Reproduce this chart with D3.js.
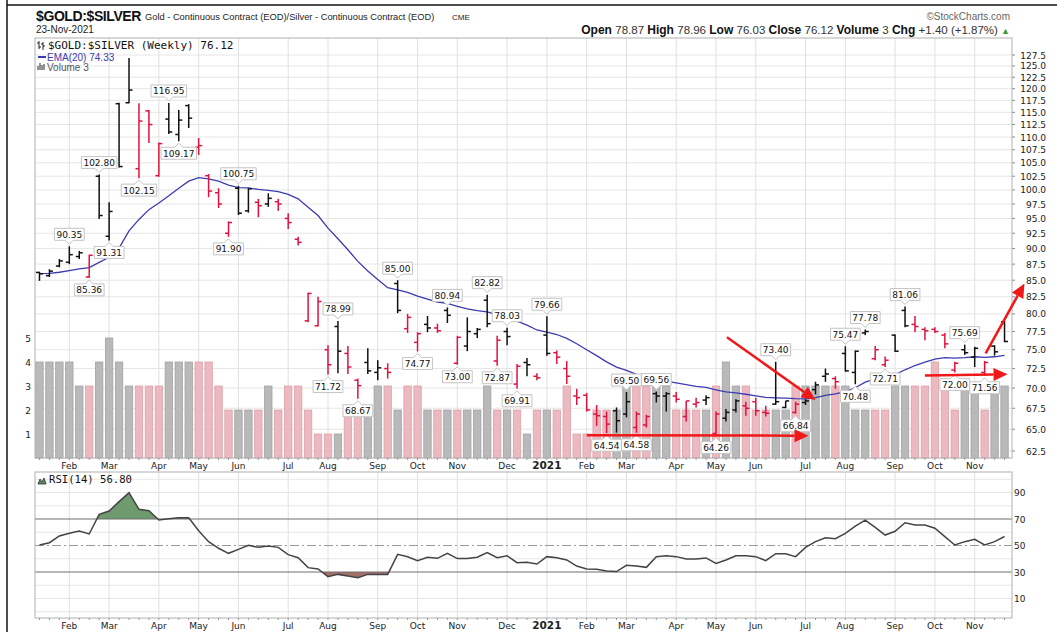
<!DOCTYPE html>
<html>
<head>
<meta charset="utf-8">
<script src="https://cdn.jsdelivr.net/npm/d3@7"></script>
<style>
  body { margin: 0; background: #fff; }
  svg { display: block; font-family: "Liberation Sans", Arial, sans-serif; }
</style>
</head>
<body>
<svg id="chart" width="1057" height="632"></svg>
<script>
// weekly bars, week of 13-Jan-2020 .. week of 22-Nov-2021
const opens = [86.2, 85.7, 87.2, 87.8, 88.7, 85.5, 102.5, 92.0, 116.8, 117.0,
  103.9, 115.3, 102.6, 113.6, 110.5, 116.4, 108.0, 102.6, 99.5, 92.5,
  100.3, 96.3, 97.8, 97.5, 97.9, 95.0, 91.5, 79.0, 78.3, 75.0,
  78.2, 74.5, 71.0, 73.3, 72.0, 72.5, 84.5, 77.9, 76.0, 78.5,
  78.0, 80.5, 73.2, 75.5, 77.2, 82.0, 73.5, 77.5, 70.5, 73.3,
  71.5, 77.0, 74.6, 72.5, 69.0, 69.1, 66.8, 66.5, 67.2, 66.8,
  65.2, 65.5, 69.3, 69.0, 69.0, 66.5, 68.0, 68.5, 64.5, 66.3,
  67.3, 67.8, 68.3, 67.0, 68.0, 67.6, 67.0, 68.2, 69.8, 71.5,
  71.2, 74.5, 72.0, 77.3, 73.8, 73.0, 77.0, 80.5, 78.5, 77.8,
  77.8, 77.0, 72.3, 75.0, 74.0, 72.0, 75.5, 78.87];
const highs = [86.3, 86.7, 88.3, 90.35, 89.6, 89.0, 102.80, 97.8, 117.0, 126.8,
  116.9, 115.5, 108.9, 116.95, 115.5, 116.7, 109.8, 102.9, 100.3, 94.5,
  100.75, 100.3, 98.4, 99.4, 98.4, 95.9, 91.9, 83.1, 82.5, 75.6,
  78.99, 75.5, 71.2, 75.2, 73.6, 73.2, 85.00, 80.0, 77.4, 79.7,
  78.6, 80.94, 76.9, 79.5, 78.0, 82.82, 76.9, 78.03, 73.1, 73.9,
  71.9, 79.66, 74.9, 73.5, 69.9, 69.4, 67.9, 67.1, 67.6, 69.50,
  67.1, 66.7, 69.56, 69.5, 69.5, 68.4, 68.8, 69.1, 67.1, 67.4,
  68.6, 68.3, 68.8, 67.8, 73.40, 68.4, 68.3, 68.6, 70.8, 72.5,
  71.5, 75.47, 74.9, 77.78, 75.5, 74.1, 77.1, 81.06, 79.7, 78.1,
  78.1, 77.3, 73.4, 75.69, 75.4, 73.5, 75.6, 78.96];
const lows = [84.9, 85.5, 87.0, 87.5, 88.3, 85.36, 94.9, 91.31, 104.1, 116.9,
  102.15, 108.8, 102.4, 110.6, 109.17, 111.8, 106.5, 98.7, 96.8, 91.90,
  95.6, 96.0, 95.2, 97.0, 96.3, 93.2, 90.5, 78.8, 78.2, 71.72,
  71.9, 71.8, 68.67, 71.8, 71.0, 71.2, 80.1, 77.3, 74.77, 77.4,
  77.3, 78.7, 73.00, 74.8, 76.6, 78.1, 72.87, 75.6, 69.91, 71.5,
  71.0, 74.2, 73.1, 70.5, 67.9, 67.1, 65.4, 64.54, 64.6, 66.4,
  64.58, 65.2, 68.2, 67.1, 68.2, 65.9, 67.6, 67.9, 64.26, 65.9,
  67.0, 66.6, 66.6, 66.5, 67.9, 67.5, 66.84, 67.9, 69.2, 70.8,
  69.9, 72.1, 70.48, 77.0, 73.6, 72.71, 74.7, 78.1, 77.4, 76.3,
  77.3, 75.2, 72.00, 74.3, 72.7, 71.56, 74.2, 76.03];
const closes = [86.0, 86.4, 88.0, 89.0, 89.3, 88.9, 95.5, 96.2, 104.3, 119.7,
  113.2, 112.5, 108.7, 111.0, 113.4, 113.8, 108.3, 99.8, 97.5, 94.3,
  95.9, 100.2, 97.2, 98.5, 97.5, 94.3, 91.0, 83.0, 81.8, 73.0,
  74.8, 72.7, 70.3, 72.2, 72.6, 72.0, 80.5, 79.5, 77.2, 78.0,
  77.6, 79.8, 76.7, 77.5, 77.8, 78.6, 76.3, 76.8, 72.8, 73.0,
  71.3, 74.5, 74.0, 71.5, 68.8, 67.3, 66.6, 65.6, 66.0, 68.3,
  66.8, 66.5, 69.0, 69.3, 68.6, 68.4, 68.2, 68.8, 66.8, 67.0,
  68.4, 67.5, 67.2, 66.9, 68.3, 68.4, 68.0, 68.4, 70.4, 71.8,
  70.8, 72.2, 74.8, 77.5, 75.0, 73.6, 74.8, 78.3, 78.2, 77.6,
  77.5, 75.8, 73.2, 74.6, 75.2, 73.3, 74.72, 76.12];
const volumes = [4, 4, 4, 4, 3, 3, 4, 5, 4, 3,
  3, 3, 3, 4, 4, 4, 4, 4, 3, 2,
  2, 2, 2, 3, 2, 3, 3, 2, 1, 1,
  1, 2, 2, 2, 3, 3, 2, 3, 3, 2,
  2, 2, 2, 2, 2, 3, 2, 2, 2, 1,
  2, 2, 2, 3, 1, 1, 2, 2, 2, 3,
  3, 3, 3, 3, 2, 2, 2, 2, 3, 4,
  3, 3, 2, 2, 2, 2, 3, 3, 3, 3,
  3, 3, 2, 2, 2, 2, 3, 3, 3, 3,
  4, 3, 2, 3, 3, 2, 3, 3];
const rsiValues = [50.4, 52.1, 57.2, 59.2, 60.9, 58.7, 73.5, 76.0, 83.1, 89.9,
  77.3, 76.3, 69.2, 70.2, 71.0, 71.0, 61.2, 52.9, 47.9, 44.1,
  47.1, 50.1, 48.6, 49.6, 48.6, 43.1, 40.8, 33.3, 32.3, 26.5,
  28.2, 27.0, 25.7, 28.2, 28.2, 28.2, 43.3, 41.5, 38.5, 41.1,
  40.3, 44.1, 40.1, 40.1, 41.1, 44.6, 40.8, 42.3, 37.0, 37.3,
  36.0, 41.6, 40.8, 39.1, 34.5, 32.3, 32.0, 30.8, 30.3, 35.0,
  34.5, 33.5, 41.6, 42.3, 41.6, 39.8, 39.8, 40.6, 36.5, 39.1,
  42.3, 42.3, 41.6, 38.6, 43.8, 43.8, 41.6, 48.6, 52.9, 55.9,
  55.1, 59.2, 64.7, 69.2, 63.7, 57.9, 60.7, 67.2, 65.5, 65.5,
  63.0, 56.7, 50.4, 52.9, 54.7, 50.4, 52.9, 56.8];
const emaReading = 74.33; // legend value as printed on the chart

// first bar of each month (bar index, label)
const monthTicks = [[3, "Feb"], [7, "Mar"], [12, "Apr"], [16, "May"], [20, "Jun"], [25, "Jul"],
  [29, "Aug"], [34, "Sep"], [38, "Oct"], [42, "Nov"], [47, "Dec"], [51, "2021"],
  [55, "Feb"], [59, "Mar"], [64, "Apr"], [68, "May"], [72, "Jun"], [77, "Jul"],
  [81, "Aug"], [86, "Sep"], [90, "Oct"], [94, "Nov"]];
const priceTicks = d3.range(62.5, 127.6, 2.5);
const volumeTicks = [1, 2, 3, 4, 5];
const rsiTicks = [10, 30, 50, 70, 90];
const rsiGrid = d3.range(0, 101, 10);

// swing labels: bar index and which end
const swingLabels = [[3, "H"], [5, "L"], [6, "H"], [7, "L"], [10, "L"], [13, "H"], [14, "L"],
  [19, "L"], [20, "H"], [29, "L"], [30, "H"], [32, "L"], [36, "H"], [38, "L"], [41, "H"],
  [42, "L"], [45, "H"], [46, "L"], [47, "H"], [48, "L"], [51, "H"], [57, "L"], [59, "H"],
  [60, "L"], [62, "H"], [68, "L"], [74, "H"], [76, "L"], [81, "H"], [82, "L"], [83, "H"],
  [85, "L"], [87, "H"], [92, "L"], [93, "H"], [95, "L"]];

// hand drawn red arrows, [bar index, price]
const arrowFrom = [[55.0, 64.3], [69.1, 76.7], [89.0, 71.6], [95.1, 74.5]];
const arrowTo = [[77.3, 64.25], [78.0, 68.5], [97.3, 71.75], [99.0, 84.5]];

const svg = d3.select("#chart");
const pane = { left: 35, right: 1012, top: 38, bottom: 458 };
const rsiPane = { left: 35, right: 1012, top: 472, bottom: 618 };
const n = closes.length;
const idx = d3.range(n);

const x = d3.scaleLinear().domain([-0.45, 97.75]).range([pane.left, pane.right]);
const y = d3.scaleLog().domain([62.5, 127.5]).range([451, 55]);
const yVol = d3.scaleLinear().domain([0, 17.5]).range([pane.bottom, pane.top]);
const yRsi = d3.scaleLinear().domain([0, 100]).range([611.75, 479.25]);

const up = i => i === 0 || closes[i] >= closes[i - 1];

// EMA(20) of closes
const k = 2 / 21;
const ema = [];
closes.forEach((c, i) => ema.push(i === 0 ? c : ema[i - 1] + k * (c - ema[i - 1])));

// frame
svg.append("line").attr("x1", 7).attr("x2", 7).attr("y1", 0).attr("y2", 632)
  .attr("stroke", "#111").attr("stroke-width", 1.5);
svg.append("line").attr("x1", 7).attr("x2", 1057).attr("y1", 5).attr("y2", 5)
  .attr("stroke", "#111").attr("stroke-width", 1.5);

// header
const head = svg.append("g");
head.append("text").attr("x", 36).attr("y", 21).attr("font-size", 14).attr("font-weight", "bold")
  .attr("letter-spacing", -0.4).attr("fill", "#111").text("$GOLD:$SILVER");
head.append("text").attr("x", 145).attr("y", 20).attr("font-size", 9.3).attr("fill", "#222")
  .text("Gold - Continuous Contract (EOD)/Silver - Continuous Contract (EOD)");
head.append("text").attr("x", 452).attr("y", 20).attr("font-size", 8).attr("fill", "#222").text("CME");
head.append("text").attr("x", 36).attr("y", 33).attr("font-size", 10).attr("fill", "#222").text("23-Nov-2021");
head.append("text").attr("x", 1010).attr("y", 20).attr("font-size", 10).attr("fill", "#666")
  .attr("text-anchor", "end").text("\u00A9StockCharts.com");

const last = n - 1;
const chg = closes[last] - closes[last - 1];
const stats = head.append("text").attr("x", 1010).attr("y", 34).attr("font-size", 12)
  .attr("text-anchor", "end").attr("fill", "#111");
[["Open", opens[last].toFixed(2)], ["High", highs[last].toFixed(2)], ["Low", lows[last].toFixed(2)],
 ["Close", closes[last].toFixed(2)], ["Volume", volumes[last]],
 ["Chg", `+${chg.toFixed(2)} (+${(chg / closes[last - 1] * 100).toFixed(2)}%)`]]
  .forEach(([lab, val]) => {
    stats.append("tspan").attr("font-weight", "bold").text(lab + " ");
    stats.append("tspan").attr("font-size", 11.5).attr("fill", "#333").text(val + "   ");
  });
stats.append("tspan").attr("fill", "#3c9a3c").attr("font-size", 9).text("\u25B2");

// panels
function panelBase(p) {
  svg.append("rect").attr("x", p.left).attr("y", p.top)
    .attr("width", p.right - p.left).attr("height", p.bottom - p.top)
    .attr("fill", "#fff");
}
panelBase(pane);
panelBase(rsiPane);

const grid = svg.append("g");
grid.selectAll(".hg").data(priceTicks).join("line")
  .attr("x1", pane.left).attr("x2", pane.right)
  .attr("y1", d => y(d)).attr("y2", d => y(d))
  .attr("stroke", "#e6e6e6");
[pane, rsiPane].forEach(p => {
  grid.append("g").selectAll("line").data(monthTicks).join("line")
    .attr("x1", d => x(d[0])).attr("x2", d => x(d[0]))
    .attr("y1", p.top).attr("y2", p.bottom)
    .attr("stroke", "#e0e0e0");
});
grid.selectAll(".rg").data(rsiGrid.filter(d => d !== 30 && d !== 50 && d !== 70)).join("line")
  .attr("x1", rsiPane.left).attr("x2", rsiPane.right)
  .attr("y1", d => yRsi(d)).attr("y2", d => yRsi(d))
  .attr("stroke", "#e6e6e6");

// volume
svg.append("g").selectAll("rect").data(idx).join("rect")
  .attr("x", i => x(i) - 3.7).attr("width", 7.4)
  .attr("y", i => yVol(volumes[i])).attr("height", i => yVol(0) - yVol(volumes[i]))
  .attr("fill", i => up(i) ? "#b9b9b9" : "#ebb9bf")
  .attr("stroke", i => up(i) ? "#a2a2a2" : "#dca2a9").attr("stroke-width", 0.8);

svg.append("g").selectAll("text").data(volumeTicks).join("text")
  .attr("x", 28).attr("y", d => yVol(d) + 3.5).attr("text-anchor", "middle")
  .attr("font-family", "DejaVu Sans").attr("font-size", 9).attr("fill", "#222").text(d => d);

// EMA
svg.append("path").datum(idx)
  .attr("d", d3.line().x(i => x(i)).y(i => y(ema[i])))
  .attr("fill", "none").attr("stroke", "#3b3bb0").attr("stroke-width", 1.3);

// OHLC bars
const bars = svg.append("g").selectAll("g").data(idx).join("g")
  .attr("stroke", i => up(i) ? "#111" : "#e2123e").attr("stroke-width", 1.5);
bars.append("line").attr("x1", i => x(i)).attr("x2", i => x(i))
  .attr("y1", i => y(highs[i])).attr("y2", i => y(lows[i]));
bars.append("line").attr("x1", i => x(i) - 3.5).attr("x2", i => x(i))
  .attr("y1", i => y(opens[i])).attr("y2", i => y(opens[i]));
bars.append("line").attr("x1", i => x(i)).attr("x2", i => x(i) + 3.5)
  .attr("y1", i => y(closes[i])).attr("y2", i => y(closes[i]));

// swing labels
const lab = svg.append("g").attr("font-family", "DejaVu Sans").attr("font-size", 9);
swingLabels.forEach(([i, side]) => {
  const v = side === "H" ? highs[i] : lows[i];
  const cx = x(i), py = y(v);
  const g = lab.append("g");
  const path = g.append("path");
  const t = g.append("text").attr("x", cx).attr("text-anchor", "middle").attr("fill", "#111")
    .text(v.toFixed(2));
  const w = t.node().getComputedTextLength() + 4, h = 12;
  const l = cx - w / 2, r = cx + w / 2;
  let d;
  if (side === "H") {
    const tip = py - 2, b = tip - 4, tp = b - h;
    d = `M${l},${tp}H${r}V${b}H${cx + 4}L${cx},${tip}L${cx - 4},${b}H${l}Z`;
    t.attr("y", tp + 9.5);
  } else {
    const tip = py + 2, tp = tip + 4, b = tp + h;
    d = `M${l},${tp}H${cx - 4}L${cx},${tip}L${cx + 4},${tp}H${r}V${b}H${l}Z`;
    t.attr("y", tp + 9.5);
  }
  path.attr("d", d).attr("fill", "#fff").attr("stroke", "#c4c4c4");
});

// price panel legend
const leg = svg.append("g");
leg.append("path").attr("d", "M39,41V49M37,43H39M39,47H41M43,42V50M41,44H43M43,46H45")
  .attr("stroke", "#222").attr("fill", "none");
leg.append("text").attr("x", 48).attr("y", 48.5).attr("font-family", "DejaVu Sans Mono")
  .attr("font-size", 11).attr("fill", "#111")
  .text(`$GOLD:$SILVER (Weekly) ${closes[last].toFixed(2)}`);
leg.append("line").attr("x1", 38).attr("x2", 46).attr("y1", 57).attr("y2", 57)
  .attr("stroke", "#3b3bb0").attr("stroke-width", 2);
leg.append("text").attr("x", 47).attr("y", 60.5).attr("font-size", 10).attr("fill", "#3b3bb0")
  .text(`EMA(20) ${emaReading.toFixed(2)}`);
leg.append("path").attr("d", "M38,70V66M40,70V63M42,70V65M44,70V64")
  .attr("stroke", "#666").attr("stroke-width", 1.4);
leg.append("text").attr("x", 47).attr("y", 71).attr("font-size", 10).attr("fill", "#555")
  .text(`Volume ${volumes[last]}`);

// price axis
const ax = svg.append("g").attr("font-family", "DejaVu Sans").attr("font-size", 9).attr("fill", "#222");
ax.selectAll("text").data(priceTicks).join("text")
  .attr("x", 1046).attr("y", d => y(d) + 3.5).attr("text-anchor", "end").text(d => d.toFixed(1));
svg.append("g").selectAll("line").data(priceTicks).join("line")
  .attr("x1", pane.right).attr("x2", pane.right + 3)
  .attr("y1", d => y(d)).attr("y2", d => y(d)).attr("stroke", "#888");

// RSI
const rsiG = svg.append("g");
rsiG.append("clipPath").attr("id", "above70").append("rect")
  .attr("x", rsiPane.left).attr("width", rsiPane.right - rsiPane.left)
  .attr("y", rsiPane.top).attr("height", yRsi(70) - rsiPane.top);
rsiG.append("clipPath").attr("id", "below30").append("rect")
  .attr("x", rsiPane.left).attr("width", rsiPane.right - rsiPane.left)
  .attr("y", yRsi(30)).attr("height", rsiPane.bottom - yRsi(30));
rsiG.append("path").datum(idx).attr("clip-path", "url(#above70)")
  .attr("d", d3.area().x(i => x(i)).y0(yRsi(70)).y1(i => yRsi(rsiValues[i])))
  .attr("fill", "#6e9a6e");
rsiG.append("path").datum(idx).attr("clip-path", "url(#below30)")
  .attr("d", d3.area().x(i => x(i)).y0(yRsi(30)).y1(i => yRsi(rsiValues[i])))
  .attr("fill", "#a56f69");
[70, 30].forEach(v => rsiG.append("line").attr("x1", rsiPane.left).attr("x2", rsiPane.right)
  .attr("y1", yRsi(v)).attr("y2", yRsi(v)).attr("stroke", "#6e6e6e"));
rsiG.append("line").attr("x1", rsiPane.left).attr("x2", rsiPane.right)
  .attr("y1", yRsi(50)).attr("y2", yRsi(50)).attr("stroke", "#999")
  .attr("stroke-dasharray", "9,3,2,3");
rsiG.append("path").datum(idx)
  .attr("d", d3.line().x(i => x(i)).y(i => yRsi(rsiValues[i])))
  .attr("fill", "none").attr("stroke", "#444").attr("stroke-width", 1.5);
rsiG.append("g").attr("font-family", "DejaVu Sans").attr("font-size", 9).attr("fill", "#222")
  .selectAll("text").data(rsiTicks).join("text")
  .attr("x", 1014).attr("y", d => yRsi(d) + 3.5).text(d => d);
rsiG.append("path").attr("d", "M38,484L40,479L42,482L44,478L46,484Z").attr("fill", "#5c8a5c")
  .attr("stroke", "#333").attr("stroke-width", 0.8);
rsiG.append("text").attr("x", 49).attr("y", 483).attr("font-family", "DejaVu Sans Mono")
  .attr("font-size", 10.6).attr("fill", "#111")
  .text(`RSI(14) ${rsiValues[last].toFixed(2)}`);

// panel borders and x axes
[pane, rsiPane].forEach(p => {
  svg.append("rect").attr("x", p.left).attr("y", p.top)
    .attr("width", p.right - p.left).attr("height", p.bottom - p.top)
    .attr("fill", "none").attr("stroke", "#b0b0b0");
  svg.append("g").selectAll("line").data(idx).join("line")
    .attr("x1", i => x(i)).attr("x2", i => x(i))
    .attr("y1", p.bottom).attr("y2", p.bottom + 2).attr("stroke", "#999");
  svg.append("g").attr("font-family", "DejaVu Sans").attr("font-size", 9).attr("fill", "#222")
    .selectAll("text").data(monthTicks).join("text")
    .attr("x", d => x(d[0])).attr("y", p.bottom + 11).attr("text-anchor", "middle")
    .attr("font-weight", d => d[1] === "2021" ? "bold" : null)
    .attr("font-size", d => d[1] === "2021" ? 10.5 : 9)
    .text(d => d[1]);
});

// red arrows
const arr = svg.append("g").attr("fill", "#f01818").attr("stroke", "#f01818");
arrowFrom.forEach((f, j) => {
  const t = arrowTo[j];
  const x1 = x(f[0]), y1 = y(f[1]), x2 = x(t[0]), y2 = y(t[1]);
  const a = Math.atan2(y2 - y1, x2 - x1);
  const len = 14, hw = 6.5;
  const bx = x2 - len * Math.cos(a), by = y2 - len * Math.sin(a);
  arr.append("line").attr("x1", x1).attr("y1", y1).attr("x2", bx).attr("y2", by)
    .attr("stroke-width", 2.5);
  arr.append("path").attr("stroke", "none")
    .attr("d", `M${x2},${y2}L${bx + hw * Math.sin(a)},${by - hw * Math.cos(a)}L${bx - hw * Math.sin(a)},${by + hw * Math.cos(a)}Z`);
});
</script>
</body>
</html>
